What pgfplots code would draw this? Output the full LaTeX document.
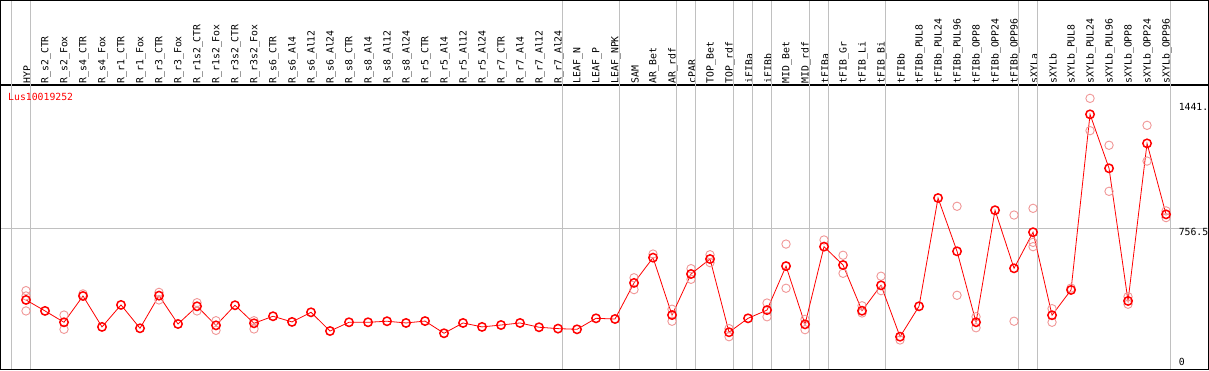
\documentclass[border=0pt]{standalone}
\usepackage{pgfplots}
\pgfplotsset{compat=1.18}
\usepackage{fontspec}
\setmonofont{DejaVu Sans Mono}
\definecolor{rep}{RGB}{240,150,150}
\definecolor{sep}{RGB}{192,192,192}
\pgfplotstableread{
x y
1 342
2 278
3 212
4 365
5 185
6 313
7 177
8 367
9 202
10 305
11 194
12 311
13 206
14 247
15 214
16 270
17 161
18 212
19 212
20 218
21 208
22 219
23 148
24 208
25 185
26 196
27 208
28 183
29 175
30 171
31 235
32 231
33 441
34 588
35 254
36 493
37 580
38 154
39 235
40 283
41 539
42 200
43 652
44 545
45 279
46 427
47 128
48 305
49 935
50 625
51 212
52 864
53 526
54 736
55 253
56 400
57 1422
58 1108
59 336
60 1253
61 840
}\means
\pgfplotstableread{
x y
1 396
1 365
1 278
3 254
3 171
4 377
8 386
8 342
10 326
10 278
11 221
11 165
13 221
13 173
33 471
33 402
34 609
35 288
35 218
36 524
36 462
37 605
37 559
38 175
38 128
40 324
40 244
41 667
41 410
42 229
42 169
43 691
44 602
44 497
45 308
45 266
46 480
46 396
47 109
50 887
50 369
51 244
51 180
53 836
53 218
54 875
54 677
54 652
55 291
55 212
56 411
57 1515
57 1327
58 1242
58 974
59 361
59 317
60 1358
60 1150
61 860
61 821
}\reps
\begin{document}
\begin{tikzpicture}
\begin{axis}[
  scale only axis, width=1207.8pt, height=284.4pt,
  xmin=-0.337, xmax=63.23, ymin=-62.3, ymax=1592.7,
  axis line style={line width=1.2pt},
  clip=false,
  major tick length=0pt,
  ytick=\empty,
  xtick={1,...,61},
  xticklabel pos=upper,
  xticklabels={HYP,R\_s2\_CTR,R\_s2\_Fox,R\_s4\_CTR,R\_s4\_Fox,R\_r1\_CTR,R\_r1\_Fox,R\_r3\_CTR,R\_r3\_Fox,R\_r1s2\_CTR,R\_r1s2\_Fox,R\_r3s2\_CTR,R\_r3s2\_Fox,R\_s6\_CTR,R\_s6\_Al4,R\_s6\_Al12,R\_s6\_Al24,R\_s8\_CTR,R\_s8\_Al4,R\_s8\_Al12,R\_s8\_Al24,R\_r5\_CTR,R\_r5\_Al4,R\_r5\_Al12,R\_r5\_Al24,R\_r7\_CTR,R\_r7\_Al4,R\_r7\_Al12,R\_r7\_Al24,LEAF\_N,LEAF\_P,LEAF\_NPK,SAM,AR\_Bet,AR\_rdf,cPAR,TOP\_Bet,TOP\_rdf,iFIBa,iFIBb,MID\_Bet,MID\_rdf,tFIBa,tFIB\_Gr,tFIB\_Li,tFIB\_Bi,tFIBb,tFIBb\_PUL8,tFIBb\_PUL24,tFIBb\_PUL96,tFIBb\_OPP8,tFIBb\_OPP24,tFIBb\_OPP96,sXYLa,sXYLb,sXYLb\_PUL8,sXYLb\_PUL24,sXYLb\_PUL96,sXYLb\_OPP8,sXYLb\_OPP24,sXYLb\_OPP96},
  xticklabel style={xshift=1pt, yshift=1.5pt, rotate=90, anchor=west, inner sep=0pt, font=\ttfamily\fontsize{9.8}{10}\selectfont},
]
% separators
\draw[sep, line width=0.8pt] (axis cs:-0.337,756.5) -- (axis cs:63.23,756.5);
\draw[sep, line width=0.8pt] (axis cs:0.25,-62.3) -- ([yshift=84.4pt]axis cs:0.25,1592.7);
\draw[sep, line width=0.8pt] (axis cs:1.25,-62.3) -- ([yshift=84.4pt]axis cs:1.25,1592.7);
\draw[sep, line width=0.8pt] (axis cs:29.25,-62.3) -- ([yshift=84.4pt]axis cs:29.25,1592.7);
\draw[sep, line width=0.8pt] (axis cs:32.25,-62.3) -- ([yshift=84.4pt]axis cs:32.25,1592.7);
\draw[sep, line width=0.8pt] (axis cs:35.25,-62.3) -- ([yshift=84.4pt]axis cs:35.25,1592.7);
\draw[sep, line width=0.8pt] (axis cs:36.25,-62.3) -- ([yshift=84.4pt]axis cs:36.25,1592.7);
\draw[sep, line width=0.8pt] (axis cs:38.25,-62.3) -- ([yshift=84.4pt]axis cs:38.25,1592.7);
\draw[sep, line width=0.8pt] (axis cs:39.25,-62.3) -- ([yshift=84.4pt]axis cs:39.25,1592.7);
\draw[sep, line width=0.8pt] (axis cs:40.25,-62.3) -- ([yshift=84.4pt]axis cs:40.25,1592.7);
\draw[sep, line width=0.8pt] (axis cs:42.25,-62.3) -- ([yshift=84.4pt]axis cs:42.25,1592.7);
\draw[sep, line width=0.8pt] (axis cs:43.25,-62.3) -- ([yshift=84.4pt]axis cs:43.25,1592.7);
\draw[sep, line width=0.8pt] (axis cs:46.25,-62.3) -- ([yshift=84.4pt]axis cs:46.25,1592.7);
\draw[sep, line width=0.8pt] (axis cs:53.25,-62.3) -- ([yshift=84.4pt]axis cs:53.25,1592.7);
\draw[sep, line width=0.8pt] (axis cs:54.25,-62.3) -- ([yshift=84.4pt]axis cs:54.25,1592.7);
\draw[sep, line width=0.8pt] (axis cs:61.25,-62.3) -- ([yshift=84.4pt]axis cs:61.25,1592.7);
% outer frame
\draw[line width=1.2pt] (rel axis cs:0,0) rectangle ([yshift=84.4pt]rel axis cs:1,1);
\addplot[only marks, mark=o, mark size=4.2pt, mark options={draw=rep, line width=0.9pt}] table[x=x,y=y] {\reps};
\addplot[red, line width=0.8pt, mark=o, mark size=4.2pt, mark options={draw=red, line width=1.5pt}] table[x=x,y=y] {\means};
\node[anchor=west, text=red, inner sep=0pt, font=\ttfamily\fontsize{9.8}{10}\selectfont] at (axis cs:0.053,1523) {Lus10019252};
\node[anchor=west, inner sep=0pt, font=\ttfamily\fontsize{9.8}{10}\selectfont] at (axis cs:61.66,1463) {1441.};
\node[anchor=west, inner sep=0pt, font=\ttfamily\fontsize{9.8}{10}\selectfont] at (axis cs:61.66,738) {756.5};
\node[anchor=west, inner sep=0pt, font=\ttfamily\fontsize{9.8}{10}\selectfont] at (axis cs:61.66,-19) {0};
\end{axis}
\end{tikzpicture}
\end{document}
